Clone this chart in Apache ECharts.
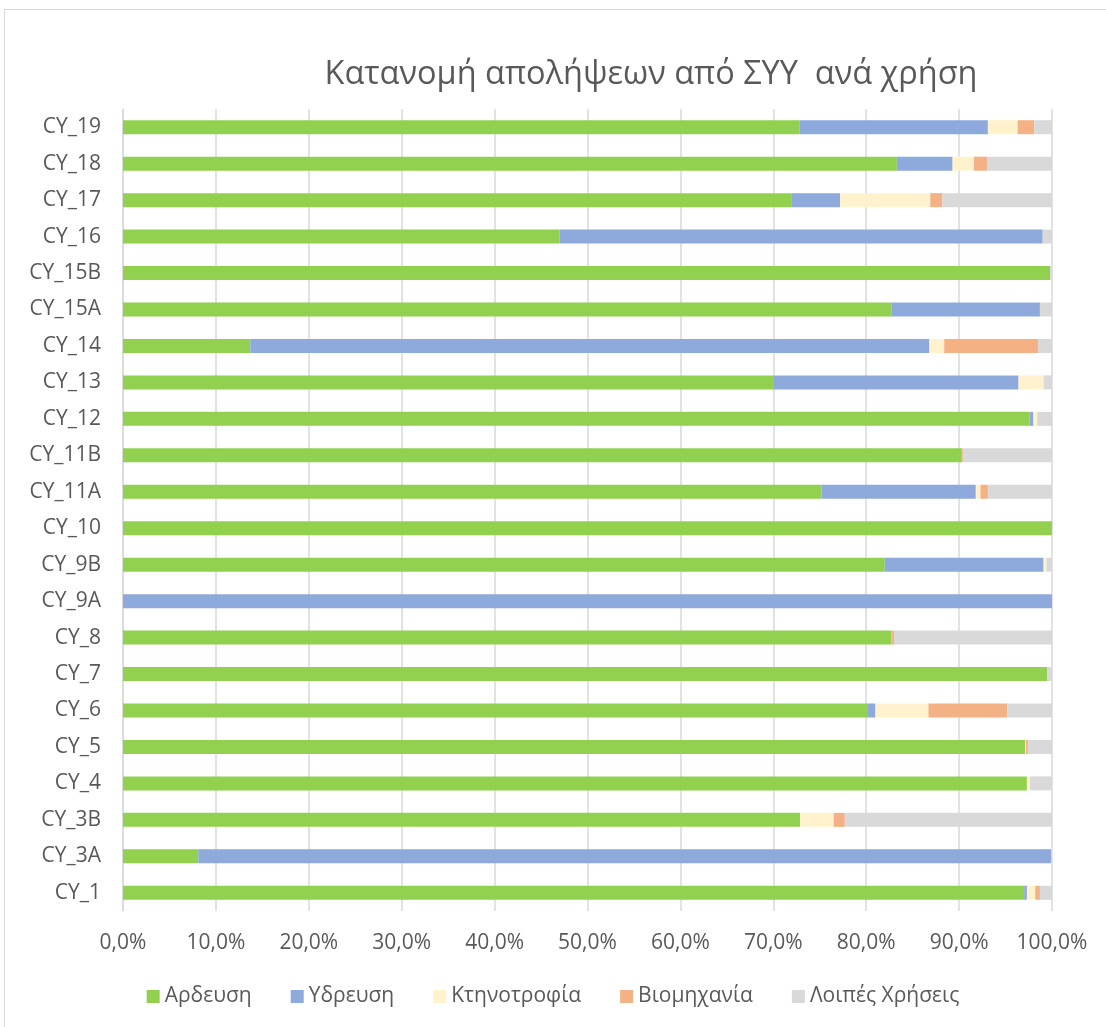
<!DOCTYPE html>
<html>
<head>
<meta charset="utf-8">
<script src="https://cdn.jsdelivr.net/npm/echarts@6/dist/echarts.min.js"></script>
<style>
    html, body { margin: 0; padding: 0; background: #fff; }
    #frame {
        position: absolute; left: 4px; top: 9px; width: 1110px; height: 1030px;
        border: 1px solid #d9d9d9; box-sizing: border-box;
    }
    #chart { position: absolute; left: 0; top: 0; width: 1106px; height: 1027px; }
</style>
</head>
<body>
<div id="frame"></div>
<div id="chart"></div>
<script>
    // κατηγορίες από κάτω προς τα πάνω
    var categories = ['CY_1', 'CY_3A', 'CY_3B', 'CY_4', 'CY_5', 'CY_6', 'CY_7', 'CY_8', 'CY_9A', 'CY_9B', 'CY_10',
        'CY_11A', 'CY_11B', 'CY_12', 'CY_13', 'CY_14', 'CY_15A', 'CY_15B', 'CY_16', 'CY_17', 'CY_18', 'CY_19']
    var seriesNames = ['Αρδευση', 'Υδρευση', 'Κτηνοτροφία', 'Βιομηχανία', 'Λοιπές Χρήσεις']
    // ποσοστά (%)
    var ardeusi = [97.0, 8.1, 72.9, 97.3, 97.1, 80.1, 99.5, 82.7, 0, 82.0, 100, 75.2, 90.3, 97.6, 70.0, 13.7, 82.7, 99.8, 47.0, 72.0, 83.3, 72.8]
    var ydreusi = [0.3, 91.8, 0, 0, 0, 0.9, 0, 0, 100, 17.1, 0, 16.6, 0, 0.4, 26.4, 73.1, 16.0, 0, 52.0, 5.2, 6.0, 20.3]
    var ktinotrofia = [0.9, 0, 3.6, 0.3, 0.1, 5.7, 0, 0, 0, 0.3, 0, 0.5, 0, 0.4, 2.7, 1.6, 0, 0, 0, 9.7, 2.3, 3.2]
    var viomixania = [0.5, 0, 1.2, 0, 0.2, 8.5, 0, 0.3, 0, 0, 0, 0.8, 0.1, 0, 0, 10.1, 0, 0, 0, 1.3, 1.4, 1.8]
    var loipes = [1.3, 0.1, 22.3, 2.4, 2.6, 4.8, 0.5, 17.0, 0, 0.6, 0, 6.9, 9.6, 1.6, 0.9, 1.5, 1.3, 0.2, 1.0, 11.8, 7.0, 1.9]
    var colors = ['#92D050', '#8EA9DB', '#FFF2CC', '#F4B183', '#D9D9D9']

    var allValues = [ardeusi, ydreusi, ktinotrofia, viomixania, loipes]
    var textColor = '#595959'
    var font = 'Open Sans'

    var chartInstance = echarts.init(document.getElementById('chart'))
    var option = {
        color: colors,
        title: {
            text: 'Κατανομή απολήψεων από ΣΥΥ  ανά χρήση',
            left: 646,
            top: 53,
            textAlign: 'center',
            textStyle: { color: textColor, fontFamily: font, fontSize: 32.5, fontWeight: 'normal' }
        },
        legend: {
            bottom: 15,
            left: 'center',
            icon: 'rect',
            itemWidth: 13,
            itemHeight: 13,
            itemGap: 39,
            textStyle: { color: textColor, fontFamily: font, fontSize: 21 }
        },
        grid: { left: 123, right: 54, top: 109, bottom: 116, containLabel: false },
        xAxis: {
            type: 'value',
            min: 0,
            max: 100,
            interval: 10,
            axisLine: { show: false },
            axisTick: { show: false },
            splitLine: { lineStyle: { color: '#d9d9d9', width: 1.5 } },
            axisLabel: {
                margin: 22,
                color: textColor, fontFamily: font, fontSize: 21,
                formatter: function (v) { return v.toFixed(1).replace('.', ',') + '%' }
            }
        },
        yAxis: {
            type: 'category',
            data: categories,
            axisLine: { show: true, lineStyle: { color: '#d9d9d9', width: 1.5 } },
            axisTick: { show: false },
            axisLabel: { margin: 22, color: textColor, fontFamily: font, fontSize: 21 }
        },
        series: seriesNames.map(function (name, i) {
            return {
                name: name,
                type: 'bar',
                stack: 'total',
                barWidth: 14,
                data: allValues[i]
            }
        })
    }
    chartInstance.setOption(option)
</script>
</body>
</html>
